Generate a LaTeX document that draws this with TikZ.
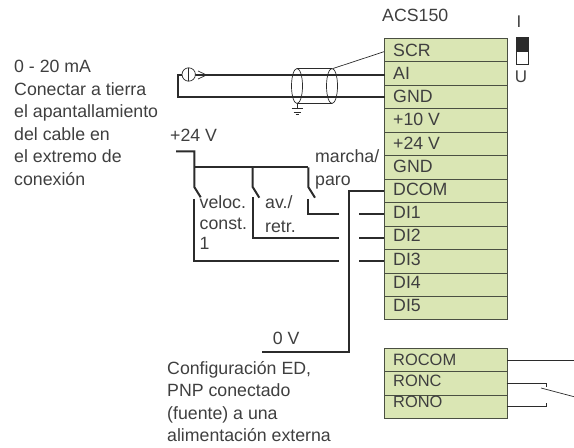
\documentclass[tikz,border=0pt]{standalone}
\usepackage{fontspec}
\setmainfont{Liberation Sans}
\definecolor{termfill}{HTML}{DAE6B4}
\definecolor{ink}{HTML}{2B2B2B}
\definecolor{textink}{HTML}{3F3F3F}
\definecolor{edge}{HTML}{4A4F42}
\tikzset{
 x=1bp,y=-1bp,
 lab/.style={inner sep=0pt,anchor=base west,font=\fontsize{17.8}{17.8}\selectfont,text=textink},
 term/.style={draw=edge,fill=termfill,line width=0.9bp,minimum width=122.5bp,minimum height=23.45bp,inner sep=0pt,anchor=north west},
 rlab/.style={inner sep=0pt,anchor=base west,font=\fontsize{17.8}{17.8}\selectfont,text=textink},
 rolab/.style={inner sep=0pt,anchor=base west,font=\fontsize{16.5}{16.5}\selectfont,text=textink},
 wire/.style={draw=ink,line width=2bp},
 thin wire/.style={draw=ink,line width=0.7bp},
}
\begin{document}
\begin{tikzpicture}
\useasboundingbox (0,0) rectangle (574,448);
% terminals
\foreach \n/\t/\b [count=\i from 0] in {scr/SCR/57,ai/AI/80,gnda/GND/102.7,p10/+10 V/126,p24/+24 V/149.3,gndb/GND/172.7,dcom/DCOM/196,di1/DI1/219,di2/DI2/241.7,di3/DI3/265.7,di4/DI4/288,di5/DI5/311.7}{
 \node[term] (\n) at (384,38+23.45*\i) {};
 \node[rlab] at (393,\b) {\t};
}
\foreach \n/\t/\y/\h/\b in {rocom/ROCOM/348.3/23/365,ronc/RONC/371.3/23.7/386,rono/RONO/395/23.2/407}{
 \node[term,minimum height=\h bp] (\n) at (384,\y) {};
 \node[rolab] at (393,\b) {\t};
}
% titles
\node[lab] at (382,21.7) {ACS150};
\node[lab] at (14,73) {0 - 20 mA};
\node[lab] at (14,95.7) {Conectar a tierra};
\node[lab] at (14,117.7) {el apantallamiento};
\node[lab] at (14,140.7) {del cable en};
\node[lab] at (14,162.7) {el extremo de};
\node[lab] at (14,185.7) {conexión};
\node[lab] at (170,141.7) {+24 V};
\node[lab] at (315,163) {marcha/};
\node[lab] at (315,186) {paro};
\node[lab] at (199.5,209) {veloc.};
\node[lab] at (199.5,230) {const.};
\node[lab] at (199.5,250) {1};
\node[lab] at (265,209) {av./};
\node[lab] at (265,233) {retr.};
\node[lab] at (272.7,344) {0 V};
\node[lab] at (167,374) {Configuración ED,};
\node[lab] at (167,396.7) {PNP conectado};
\node[lab] at (167,419) {(fuente) a una};
\node[lab] at (167,441.7) {alimentación externa};
% DIP switch
\node[inner sep=0pt,anchor=base,font=\fontsize{17}{17}\selectfont,text=textink] at (519,28) {I};
\node[inner sep=0pt,anchor=base,font=\fontsize{17}{17}\selectfont,text=textink] at (521,83) {U};
\node[draw=ink,fill=ink,line width=0.8bp,minimum width=12bp,minimum height=13.5bp,inner sep=0pt,anchor=north west] (swtop) at (515.7,37.5) {};
\node[draw=ink,fill=white,line width=0.8bp,minimum width=12bp,minimum height=13.5bp,inner sep=0pt,anchor=north west] (swbot) at (515.7,51) {};
% analog wires
\coordinate (srcl) at (178,75);
\coordinate (srcb) at (178,97.3);
\coordinate (scrpin) at (384,51.7);
\draw[wire,line cap=rect] (ai.west |- srcl) -- (srcl) -- (srcb) -- (gnda.west |- srcb);
\draw[thin wire,fill=white] (188.7,74.5) circle (6.7);
\draw[thin wire] (188.7,67.8) -- (188.7,81.2);
\draw[thin wire] (198,71) -- (206.5,75) -- (198,79);
% shield
\draw[thin wire] (297,68.5) -- (332,68.5);
\draw[thin wire] (297,103.5) -- (332,103.5);
\draw[thin wire] (297,86) ellipse (5.5 and 17.5);
\draw[thin wire] (332,86) ellipse (5.5 and 17.5);
\draw[thin wire] (333,68.5) -- (scrpin);
\draw[thin wire] (297,103.5) -- (297,109);
\draw[thin wire] (291.5,108.7) -- (302.7,108.7) (293.5,112) -- (300.5,112) (295.5,114.7) -- (298.5,114.7);
% digital
\coordinate (p) at (176,151.3);
\coordinate (zerov) at (262,351.7);
\coordinate (w1) at (339,214.5);
\coordinate (w2) at (339,237.7);
\coordinate (w3) at (339,260.7);
\coordinate (w0) at (349,190.7);
\draw[wire] (p) -- (194.3,151.3) -- (194.3,187) -- (200.7,197.3);
\draw[wire] (194.3,167.3) -- (308.3,167.3);
\draw[wire] (252.7,167.3) -- (252.7,187) -- (259.3,197.7);
\draw[wire] (308.3,167.3) -- (308.3,187) -- (315,197.7);
\draw[wire] (194.3,199) -- (194.3,260.7) -- (w3);
\draw[wire] (252.7,197.3) -- (252.7,237.7) -- (w2);
\draw[wire] (308.3,199) -- (308.3,214.5) -- (w1);
\draw[wire] (359.3,214.5) -- (di1.west |- w1);
\draw[wire] (359.3,237.7) -- (di2.west |- w2);
\draw[wire] (359.3,260.7) -- (di3.west |- w3);
\draw[wire] (dcom.west |- w0) -- (w0) -- (349,351.7) -- (zerov);
% relay
\coordinate (r1) at (574,360.7);
\coordinate (r2) at (574,396.7);
\coordinate (rc) at (541,388);
\draw[thin wire] (rocom.east |- r1) -- (r1);
\draw[thin wire] (506.5,383.3) -- (546.7,383.3) -- (546.7,387);
\draw[thin wire] (506.5,406.7) -- (546.7,406.7) -- (546.7,403);
\draw[thin wire] (rc) -- (r2);
\end{tikzpicture}
\end{document}
